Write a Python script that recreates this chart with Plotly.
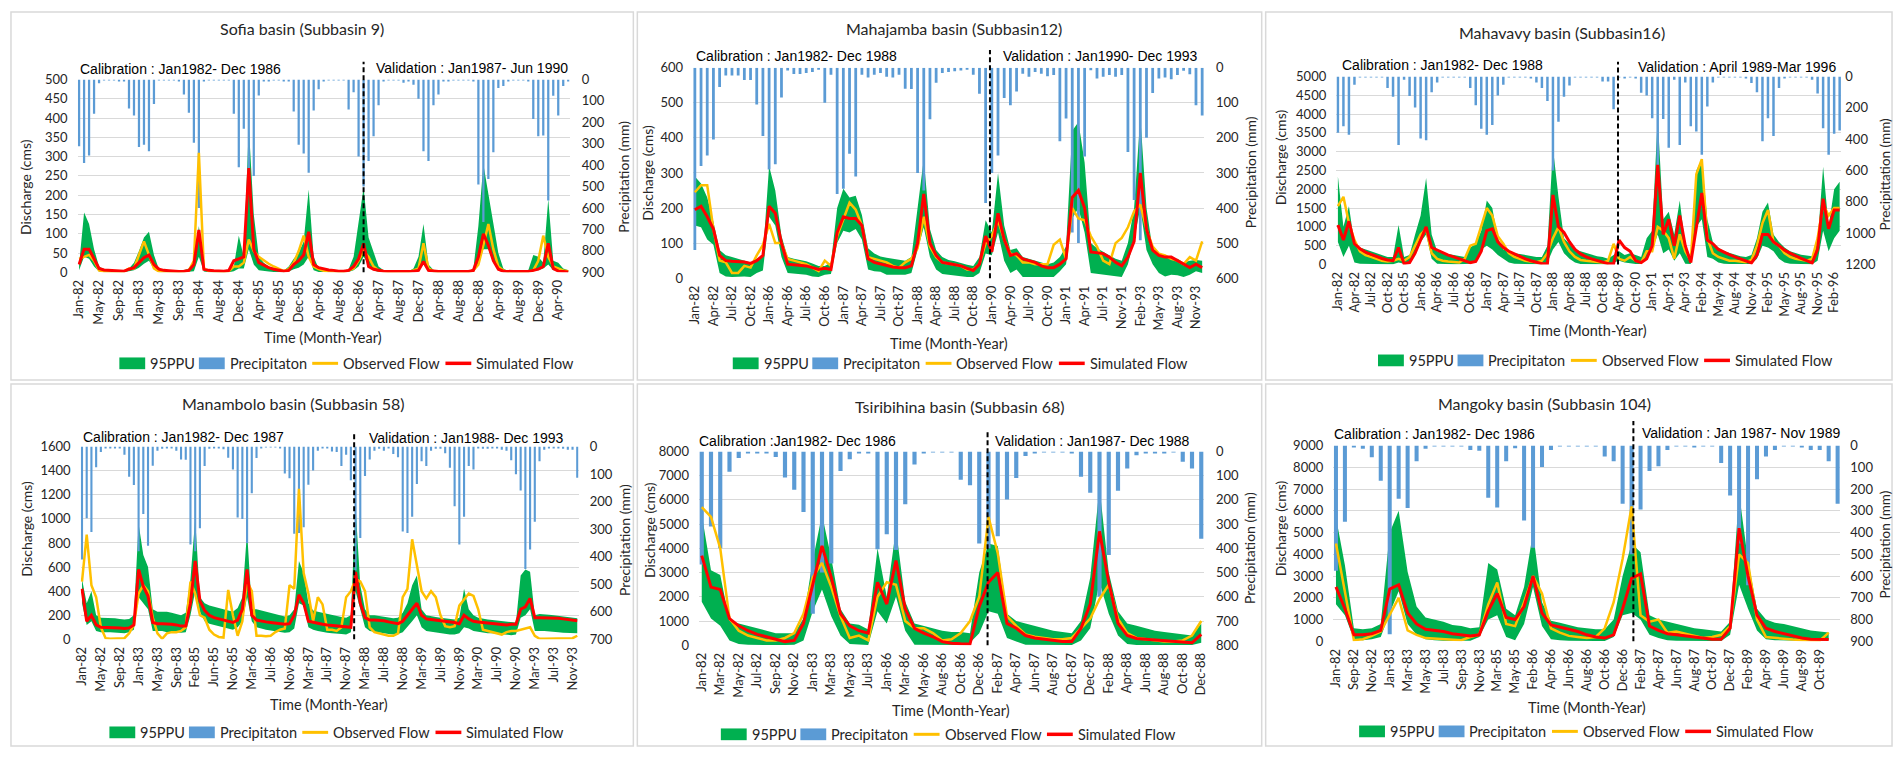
import plotly.graph_objects as go

# ======================= DATA =======================
# ---- Sofia basin (Subbasin 9) ----
sofia_labels = ["Jan-82", "May-82", "Sep-82", "Jan-83", "May-83", "Sep-83", "Jan-84", "Aug-84", "Dec-84",
                "Apr-85", "Aug-85", "Dec-85", "Apr-86", "Aug-86", "Dec-86", "Apr-87", "Aug-87", "Dec-87",
                "Apr-88", "Aug-88", "Dec-88", "Apr-89", "Aug-89", "Dec-89", "Apr-90"]
sofia_precip = [312, 390, 355, 160, 18, 3, 2, 2, 5, 10, 135, 168,
                315, 305, 335, 115, 3, 2, 2, 2, 10, 70, 155, 295,
                600, 8, 3, 2, 2, 2, 3, 160, 410, 230, 420, 450,
                75, 10, 5, 3, 3, 5, 8, 150, 305, 345, 435, 145,
                46, 5, 3, 3, 3, 3, 140, 60, 360, 500, 380, 265,
                120, 5, 3, 3, 3, 15, 10, 25, 90, 335, 380, 120,
                70, 10, 5, 3, 3, 3, 3, 10, 490, 665, 465, 340,
                40, 30, 5, 3, 3, 3, 8, 185, 265, 262, 565, 76,
                168, 30, 5]
sofia_upper = [20, 155, 125, 60, 15, 8, 5, 4, 4, 5, 10, 25,
               55, 90, 105, 45, 8, 5, 4, 3, 3, 5, 10, 25,
               120, 12, 5, 4, 3, 3, 5, 15, 95, 40, 380, 150,
               40, 25, 15, 10, 6, 4, 15, 35, 50, 80, 215, 40,
               10, 6, 5, 4, 3, 3, 8, 40, 130, 220, 90, 50,
               15, 5, 3, 3, 3, 3, 3, 10, 40, 125, 20, 6,
               3, 3, 3, 3, 3, 3, 3, 10, 120, 280, 200, 130,
               50, 10, 3, 3, 3, 3, 5, 45, 40, 25, 190, 30,
               25, 10, 5]
sofia_lower = [5, 40, 35, 15, 2, 0, 0, 0, 0, 0, 2, 5,
               12, 22, 30, 8, 0, 0, 0, 0, 0, 0, 1, 3,
               40, 2, 0, 0, 0, 0, 0, 3, 10, 10, 60, 20,
               5, 3, 2, 1, 0, 0, 2, 8, 12, 20, 40, 5,
               1, 0, 0, 0, 0, 0, 1, 5, 15, 40, 20, 5,
               1, 0, 0, 0, 0, 0, 0, 1, 5, 20, 2, 0,
               0, 0, 0, 0, 0, 0, 0, 1, 20, 60, 60, 25,
               5, 0, 0, 0, 0, 0, 0, 5, 5, 10, 20, 5,
               5, 2, 0]
sofia_obs = [35, 40, 45, 30, 5, 2, 1, 1, 1, 2, 10, 10,
             45, 80, 45, 10, 2, 1, 1, 1, 1, 2, 5, 30,
             310, 10, 3, 2, 1, 1, 3, 15, 15, 25, 85, 55,
             40, 30, 22, 15, 8, 3, 8, 25, 55, 95, 40, 15,
             8, 4, 3, 2, 1, 1, 5, 10, 30, 55, 40, 15,
             5, 2, 1, 1, 1, 1, 1, 5, 10, 75, 10, 3,
             1, 1, 1, 1, 1, 1, 1, 5, 20, 70, 125, 60,
             15, 5, 1, 1, 1, 1, 2, 5, 30, 95, 40, 15,
             10, 5, 3]
sofia_sim = [20, 60, 60, 35, 10, 6, 5, 4, 3, 3, 8, 12,
             25, 38, 45, 20, 8, 5, 4, 3, 2, 3, 5, 20,
             110, 8, 5, 4, 3, 3, 5, 30, 35, 40, 270, 60,
             25, 18, 12, 8, 5, 3, 5, 20, 30, 45, 105, 20,
             12, 8, 6, 5, 3, 3, 5, 15, 35, 75, 15, 8,
             5, 3, 2, 2, 2, 2, 2, 3, 5, 28, 5, 3,
             2, 2, 2, 2, 2, 2, 2, 5, 40, 100, 70, 30,
             8, 3, 2, 2, 2, 2, 2, 5, 8, 15, 75, 10,
             3, 2, 1]
sofia_split = 57.0

# ---- Mahajamba basin (Subbasin12) ----
maha_labels = ["Jan-82", "Apr-82", "Jul-82", "Oct-82", "Jan-86", "Apr-86", "Jul-86", "Oct-86", "Jan-87",
               "Apr-87", "Jul-87", "Oct-87", "Jan-88", "Apr-88", "Jul-88", "Oct-88", "Jan-90", "Apr-90",
               "Jul-90", "Oct-90", "Jan-91", "Apr-91", "Jul-91", "Nov-91", "Feb-93", "May-93", "Aug-93",
               "Nov-93"]
maha_precip = [520, 280, 250, 205, 55, 22, 22, 22, 35, 35, 105, 195,
               290, 275, 85, 8, 18, 18, 15, 12, 6, 100, 20, 360,
               345, 245, 310, 20, 28, 20, 15, 26, 28, 20, 60, 61,
               300, 350, 147, 43, 15, 12, 10, 8, 5, 20, 74, 386,
               300, 250, 86, 107, 68, 17, 26, 12, 17, 24, 21, 210,
               145, 470, 500, 253, 7, 31, 26, 21, 26, 21, 240, 377,
               492, 200, 72, 31, 28, 33, 21, 9, 19, 107, 136]
maha_upper = [290, 270, 230, 160, 80, 65, 60, 55, 50, 45, 55, 65,
              320, 250, 120, 60, 55, 52, 48, 42, 35, 35, 45, 200,
              255, 230, 235, 180, 85, 70, 62, 58, 55, 52, 50, 60,
              200, 340, 140, 80, 60, 52, 48, 42, 38, 35, 60, 165,
              130, 300, 150, 80, 85, 60, 55, 50, 45, 40, 45, 60,
              90, 420, 445, 330, 100, 85, 75, 65, 55, 50, 100, 200,
              460, 200, 80, 65, 60, 55, 55, 45, 50, 52, 50]
maha_lower = [150, 145, 110, 95, 15, 5, 3, 3, 5, 3, 15, 22,
              175, 150, 60, 15, 12, 12, 10, 5, 3, 10, 12, 100,
              135, 130, 140, 110, 25, 20, 18, 10, 8, 10, 10, 15,
              80, 145, 60, 25, 12, 10, 8, 5, 3, 3, 15, 70,
              65, 130, 50, 15, 25, 3, 3, 3, 3, 3, 3, 20,
              40, 170, 200, 130, 15, 12, 10, 8, 5, 3, 40, 110,
              200, 80, 40, 15, 5, 10, 8, 3, 10, 20, 15]
maha_obs = [245, 265, 265, 140, 50, 45, 15, 15, 35, 30, 65, 95,
            155, 100, 100, 55, 50, 45, 40, 30, 20, 50, 35, 120,
            170, 215, 195, 150, 60, 55, 50, 45, 35, 30, 45, 55,
            85, 175, 90, 60, 45, 42, 40, 35, 25, 25, 40, 100,
            120, 165, 110, 70, 65, 45, 45, 40, 40, 40, 95, 110,
            55, 200, 170, 165, 120, 90, 50, 40, 100, 115, 145, 190,
            210, 140, 90, 70, 65, 55, 50, 40, 60, 50, 105]
maha_sim = [195, 205, 175, 140, 65, 50, 48, 47, 46, 42, 50, 65,
            205, 185, 100, 40, 38, 37, 35, 30, 25, 28, 25, 130,
            175, 170, 170, 150, 55, 45, 40, 35, 32, 30, 30, 35,
            100, 240, 100, 65, 45, 42, 38, 35, 28, 22, 40, 120,
            75, 185, 110, 65, 70, 55, 50, 45, 35, 30, 30, 40,
            55, 230, 250, 200, 75, 72, 70, 60, 45, 35, 60, 105,
            300, 140, 80, 65, 60, 60, 50, 40, 30, 40, 30]
maha_split = 47.7

# ---- Mahavavy basin (Subbasin16) ----
mahav_labels = ["Jan-82", "Apr-82", "Jul-82", "Oct-82", "Oct-85", "Jan-86", "Apr-86", "Jul-86", "Oct-86",
                "Jan-87", "Apr-87", "Jul-87", "Oct-87", "Jan-88", "Apr-88", "Jul-88", "Oct-88", "Apr-89",
                "Oct-90", "Jan-91", "Apr-91", "Apr-93", "Feb-94", "May-94", "Aug-94", "Nov-94", "Feb-95",
                "May-95", "Aug-95", "Nov-95", "Feb-96"]
mahav_precip = [359, 317, 371, 52, 5, 4, 3, 3, 5, 73, 129, 438,
                20, 125, 198, 396, 407, 100, 38, 5, 4, 3, 3, 5,
                73, 184, 334, 371, 309, 121, 52, 5, 4, 3, 5, 8,
                38, 73, 157, 600, 288, 129, 58, 5, 4, 3, 3, 5,
                31, 31, 209, 5, 8, 5, 10, 104, 121, 267, 600, 271,
                455, 21, 438, 38, 317, 351, 500, 192, 38, 5, 4, 3,
                3, 5, 8, 42, 100, 413, 267, 380, 73, 10, 5, 4,
                3, 5, 21, 108, 330, 500, 365, 344]
mahav_upper = [2350, 1000, 1550, 550, 450, 400, 350, 300, 250, 200, 200, 1050,
               200, 250, 800, 1300, 2300, 800, 350, 300, 280, 250, 220, 200,
               450, 550, 900, 1700, 1500, 700, 400, 350, 300, 280, 250, 220,
               200, 200, 500, 3100, 1800, 700, 550, 400, 350, 300, 250, 220,
               200, 150, 250, 350, 250, 300, 250, 200, 700, 900, 3900, 1200,
               1400, 800, 1700, 500, 200, 2500, 2800, 1200, 600, 450, 350, 300,
               260, 220, 200, 250, 700, 1400, 1650, 800, 600, 450, 350, 300,
               260, 240, 220, 600, 2600, 1000, 2000, 2200]
mahav_lower = [600, 200, 500, 50, 20, 10, 10, 5, 5, 5, 5, 50,
               20, 50, 250, 600, 800, 150, 20, 10, 5, 5, 5, 5,
               20, 100, 400, 500, 400, 250, 150, 50, 20, 10, 5, 5,
               5, 5, 50, 400, 600, 300, 150, 50, 10, 5, 5, 5,
               5, 5, 50, 100, 50, 20, 10, 10, 200, 400, 800, 300,
               400, 100, 300, 20, 10, 1000, 1200, 200, 150, 50, 20, 10,
               5, 5, 5, 10, 150, 500, 450, 350, 150, 50, 20, 10,
               5, 5, 5, 100, 900, 350, 700, 900]
mahav_obs = [1550, 1800, 1100, 650, 350, 250, 200, 150, 100, 80, 100, 150,
             100, 200, 500, 800, 950, 300, 150, 100, 80, 70, 50, 150,
             500, 550, 1000, 1500, 1300, 750, 550, 300, 200, 150, 100, 80,
             60, 100, 300, 700, 1000, 600, 350, 200, 120, 100, 80, 60,
             50, 100, 550, 150, 100, 200, 100, 50, 350, 350, 1000, 900,
             700, 150, 800, 350, 100, 2400, 2800, 700, 300, 200, 150, 100,
             100, 80, 60, 120, 500, 1100, 1450, 600, 500, 300, 200, 150,
             120, 100, 150, 700, 1600, 1300, 1500, 1500]
mahav_sim = [1050, 650, 1150, 550, 420, 330, 270, 210, 160, 120, 100, 450,
             20, 50, 300, 650, 1000, 450, 380, 300, 250, 200, 150, 100,
             50, 80, 350, 900, 950, 600, 450, 350, 280, 220, 150, 100,
             60, 20, 20, 1850, 1000, 850, 600, 400, 280, 200, 150, 100,
             50, 20, 20, 650, 450, 350, 100, 50, 150, 500, 2650, 800,
             1200, 500, 1300, 500, 50, 1000, 1900, 650, 550, 400, 320, 260,
             200, 150, 100, 40, 250, 800, 800, 600, 500, 380, 300, 220,
             160, 100, 40, 400, 1750, 950, 1450, 1450]
mahav_split = 50.8

# ---- Manambolo basin (Subbasin 58) ----
mana_labels = ["Jan-82", "May-82", "Sep-82", "Jan-83", "May-83", "Sep-83", "Feb-85", "Jun-85", "Nov-85",
               "Mar-86", "Jul-86", "Nov-86", "Mar-87", "Jul-87", "Nov-87", "Mar-88", "Jul-88", "Nov-88",
               "Mar-89", "Jul-89", "Nov-89", "Mar-90", "Jul-90", "Nov-90", "Mar-93", "Jul-93", "Nov-93"]
mana_precip = [410, 260, 310, 75, 20, 6, 4, 4, 6, 30, 110, 140,
               380, 245, 360, 70, 15, 8, 4, 6, 15, 47, 48, 356,
               380, 297, 71, 8, 6, 5, 10, 41, 83, 258, 263, 350,
               170, 42, 4, 2, 2, 2, 6, 98, 115, 317, 314, 293,
               139, 87, 15, 6, 6, 18, 20, 71, 30, 122, 450, 332,
               107, 47, 15, 8, 15, 6, 27, 39, 308, 314, 255, 136,
               53, 71, 15, 8, 8, 24, 77, 217, 356, 255, 71, 83,
               6, 8, 8, 6, 6, 12, 15, 50, 101, 160, 445, 374,
               273, 53, 12, 6, 4, 6, 8, 12, 12, 113]
mana_upper = [500, 300, 400, 200, 180, 180, 180, 175, 170, 165, 170, 200,
              960, 700, 600, 250, 230, 230, 230, 220, 210, 200, 220, 500,
              1000, 350, 300, 280, 270, 260, 250, 240, 230, 260, 350, 900,
              250, 250, 240, 230, 220, 210, 200, 190, 200, 250, 650, 550,
              300, 240, 230, 220, 210, 200, 190, 185, 180, 200, 1100, 450,
              250, 200, 200, 195, 190, 180, 175, 180, 220, 300, 450, 530,
              250, 200, 190, 185, 180, 175, 170, 165, 180, 420, 250, 200,
              180, 170, 165, 160, 155, 150, 145, 140, 140, 530, 580, 560,
              200, 210, 210, 205, 200, 195, 190, 185, 180, 175]
mana_lower = [300, 120, 150, 70, 60, 60, 60, 55, 55, 50, 60, 80,
              350, 300, 250, 70, 70, 70, 60, 60, 60, 55, 60, 200,
              400, 230, 150, 130, 120, 110, 100, 90, 80, 100, 150, 350,
              150, 100, 90, 80, 70, 65, 60, 55, 60, 90, 300, 280,
              100, 80, 70, 60, 55, 50, 45, 45, 40, 60, 400, 250,
              100, 70, 60, 55, 50, 45, 40, 45, 60, 100, 150, 200,
              100, 70, 60, 55, 50, 45, 40, 40, 50, 100, 90, 70,
              60, 55, 50, 50, 45, 40, 40, 35, 40, 180, 200, 250,
              70, 70, 70, 65, 65, 60, 55, 55, 50, 50]
mana_obs = [480, 870, 450, 350, 100, 10, 5, 5, 5, 10, 50, 120,
            380, 450, 400, 180, 50, 5, 50, 60, 60, 70, 100, 480,
            380, 200, 180, 80, 40, 20, 15, 410, 200, 30, 150, 480,
            400, 30, 30, 25, 30, 60, 80, 90, 450, 420, 1250, 550,
            380, 150, 350, 290, 80, 80, 70, 100, 350, 400, 500, 480,
            400, 100, 60, 50, 40, 30, 30, 50, 350, 420, 830, 600,
            400, 340, 400, 350, 200, 110, 100, 110, 280, 330, 380, 360,
            250, 80, 70, 60, 50, 40, 60, 70, 70, 80, 90, 100,
            30, 5, 5, 5, 5, 5, 5, 5, 10, 30]
mana_sim = [420, 150, 200, 120, 100, 100, 100, 100, 95, 90, 95, 120,
            580, 440, 360, 140, 130, 130, 130, 125, 120, 110, 110, 300,
            650, 320, 240, 200, 180, 170, 160, 150, 140, 160, 250, 580,
            200, 160, 150, 145, 140, 135, 130, 125, 130, 200, 370, 300,
            150, 140, 130, 125, 120, 115, 110, 105, 100, 100, 560, 300,
            180, 160, 160, 160, 155, 145, 135, 130, 150, 200, 240, 300,
            200, 170, 165, 160, 160, 155, 150, 140, 130, 200, 170, 150,
            145, 140, 135, 130, 125, 120, 120, 125, 125, 250, 270, 340,
            180, 180, 180, 180, 175, 175, 170, 165, 160, 155]
mana_split = 57.7

# ---- Tsiribihina basin (Subbasin 68) ----
tsi_labels = ["Jan-82", "Mar-82", "May-82", "Jul-82", "Sep-82", "Nov-82", "Jan-83", "Mar-83", "May-83",
              "Jul-83", "Jan-86", "Mar-86", "May-86", "Aug-86", "Oct-86", "Dec-86", "Feb-87", "Apr-87",
              "Jun-87", "Aug-87", "Oct-87", "Dec-87", "Feb-88", "Apr-88", "Jun-88", "Aug-88", "Oct-88",
              "Dec-88"]
tsi_precip = [467, 310, 400, 84, 27, 5, 5, 5, 23, 108, 158, 250,
              670, 500, 463, 81, 32, 5, 5, 404, 342, 407, 218, 54,
              5, 3, 3, 3, 117, 140, 380, 400, 350, 198, 110, 19,
              5, 3, 3, 3, 9, 104, 171, 600, 427, 162, 70, 16,
              5, 7, 7, 3, 43, 70, 360]
tsi_upper = [5400, 3100, 2900, 1000, 900, 800, 700, 600, 500, 500, 500,
             1100, 3500, 5400, 3600, 1500, 900, 850, 650, 4000, 2000, 4800,
             1800, 900, 800, 700, 600, 550, 550, 500, 3000, 4200, 4100,
             1300, 1000, 900, 800, 700, 600, 550, 500, 1000, 2800, 6500,
             3000, 1400, 900, 800, 700, 600, 550, 500, 450, 400, 900]
tsi_lower = [1800, 1100, 800, 200, 50, 20, 10, 5, 5, 5, 20,
             200, 1400, 2300, 1200, 400, 50, 20, 10, 1400, 900, 2000,
             600, 20, 10, 10, 5, 5, 5, 100, 500, 1400, 1300,
             300, 150, 20, 10, 5, 5, 5, 5, 200, 700, 2600,
             1300, 400, 50, 10, 10, 5, 5, 5, 5, 5, 100]
tsi_obs = [5700, 5300, 4000, 1100, 600, 400, 300, 200, 200, 300, 500,
           1300, 2800, 3400, 2400, 1200, 300, 400, 200, 2000, 2600, 2500,
           1000, 700, 700, 500, 200, 250, 500, 1000, 2000, 5300, 3800,
           1200, 800, 450, 350, 300, 250, 250, 300, 700, 1100, 1900,
           2500, 1100, 500, 300, 250, 200, 150, 150, 200, 400, 1000]
tsi_sim = [3700, 2400, 2300, 1100, 800, 600, 450, 350, 250, 150, 200,
           900, 2500, 4100, 2800, 1300, 800, 600, 500, 2600, 1700, 3500,
           1500, 700, 500, 350, 150, 80, 60, 50, 1600, 2600, 3000,
           900, 700, 400, 300, 250, 200, 150, 150, 700, 1700, 4700,
           2600, 900, 400, 280, 250, 220, 180, 150, 100, 100, 450]
tsi_split = 30.9

# ---- Mangoky basin (Subbasin 104) ----
mang_labels = ["Jan-82", "Sep-82", "Nov-82", "Jan-83", "Mar-83", "May-83", "Jul-83", "Sep-83", "Nov-83",
               "Mar-85", "May-85", "Feb-86", "Apr-86", "Jun-86", "Aug-86", "Oct-86", "Dec-86", "Feb-87",
               "Apr-87", "Jun-87", "Aug-87", "Oct-87", "Dec-87", "Feb-89", "Apr-89", "Jun-89", "Aug-89",
               "Oct-89"]
mang_precip = [575, 350, 5, 15, 54, 162, 867, 245, 287, 72, 15, 3,
               3, 3, 3, 20, 24, 240, 285, 72, 12, 345, 470, 99,
               20, 3, 3, 3, 3, 3, 50, 72, 267, 500, 294, 117,
               95, 20, 3, 3, 5, 3, 3, 80, 230, 450, 642, 155,
               50, 20, 3, 3, 8, 20, 20, 72, 267]
mang_upper = [5700, 3500, 600, 550, 600, 800, 5000, 6000, 3200, 1600, 1100, 1000,
              900, 750, 700, 600, 650, 3600, 3300, 1500, 1200, 2500, 5000, 1800,
              950, 850, 750, 650, 600, 550, 550, 1000, 3000, 4500, 4100, 1200,
              1000, 900, 800, 700, 600, 550, 500, 450, 900, 6800, 3700, 1500,
              1000, 850, 800, 700, 600, 500, 450, 400]
mang_lower = [1700, 1200, 100, 50, 100, 200, 1300, 2300, 800, 300, 100, 50,
              30, 20, 20, 30, 200, 1000, 1200, 200, 50, 800, 2500, 700,
              100, 50, 30, 20, 10, 10, 10, 200, 1200, 1300, 1000, 300,
              150, 50, 30, 20, 15, 10, 10, 10, 300, 2600, 1500, 500,
              100, 50, 30, 20, 15, 10, 10, 50]
mang_obs = [4500, 2200, 50, 100, 250, 450, 1200, 2000, 500, 300, 150, 120,
            100, 80, 50, 200, 300, 1700, 2700, 800, 700, 1800, 3000, 2200,
            600, 400, 250, 200, 150, 200, 600, 1800, 3800, 6200, 1200, 900,
            1000, 400, 450, 350, 250, 150, 200, 300, 700, 4000, 3600, 1000,
            200, 150, 100, 80, 50, 30, 30, 400]
mang_sim = [2500, 1500, 300, 300, 350, 500, 2400, 2600, 1300, 800, 550, 500,
            450, 350, 300, 250, 300, 1400, 2200, 1100, 1000, 1600, 3000, 1300,
            750, 650, 550, 450, 300, 200, 150, 300, 1500, 2900, 3100, 700,
            500, 350, 300, 250, 200, 150, 100, 100, 600, 5200, 3000, 1200,
            600, 450, 350, 250, 150, 100, 80, 80]
mang_split = 33.2

legend_names = ["95PPU", "Precipitaton", "Observed Flow", "Simulated Flow"]

# ======================= STYLE / LAYOUT =======================
GREEN, BLUE, ORANGE, RED = "#00B050", "#5B9BD5", "#FFC000", "#FF0000"
GRID, TXT, BORDER = "#D9D9D9", "#262626", "#D9D9D9"
FONT, FONT2 = "Lato", "Liberation Sans"
W, H = 1899, 757
TICK_SIZE, AXT_SIZE, TIME_SIZE, LEG_SIZE, TITLE_SIZE, NOTE_SIZE = 13, 14, 14.5, 14.5, 16, 14
LEG_OFFSETS = [0, 80, 194, 328]   # px offsets of each legend entry's symbol from the legend's left edge
LEG_SYM_W, LEG_TEXT_GAP = 26, 29

def fx(v):
    return v / W


def fy(v):
    return 1 - v / H


panels = [
    dict(title="Sofia basin (Subbasin 9)", calib="Calibration : Jan1982- Dec 1986",
         valid="Validation : Jan1987- Jun 1990", labels=sofia_labels, step=4, precip=sofia_precip,
         upper=sofia_upper, lower=sofia_lower, obs=sofia_obs, sim=sofia_sim, split=sofia_split,
         qmax=500, qstep=50, pmax=900, pstep=100, ptitle="Precipitation (mm)",
         plot=(71, 73, 566, 270), box=(4, 4, 630, 380), title_xy=(297, 21), calib_xy=(71, 62),
         valid_xy=(566, 61), dash_top=55, ytitle_xy=(18, 183), ptitle_xy=(620, 172), time_xy=(318, 337),
         legend_xy=(113, 363), rstand=11, psize=14),
    dict(title="Mahajamba basin (Subbasin12)", calib="Calibration : Jan1982- Dec 1988",
         valid="Validation : Jan1990- Dec 1993", labels=maha_labels, step=3, precip=maha_precip,
         upper=maha_upper, lower=maha_lower, obs=maha_obs, sim=maha_sim, split=maha_split,
         qmax=600, qstep=100, pmax=600, pstep=100, ptitle="Precipitation (mm)",
         plot=(690, 61, 1204, 276), box=(634, 4, 1262, 380), title_xy=(953, 21), calib_xy=(691, 49),
         valid_xy=(1200, 49), dash_top=43, ytitle_xy=(644, 168), ptitle_xy=(1251, 168), time_xy=(947, 343),
         legend_xy=(730, 363), rstand=11, psize=14),
    dict(title="Mahavavy basin (Subbasin16)", calib="Calibration : Jan1982- Dec 1988",
         valid="Validation : April 1989-Mar 1996", labels=mahav_labels, step=3, precip=mahav_precip,
         upper=mahav_upper, lower=mahav_lower, obs=mahav_obs, sim=mahav_sim, split=mahav_split,
         qmax=5000, qstep=500, pmax=1200, pstep=200, ptitle="Precipittation (mm)",
         plot=(1337, 70, 1845, 262), box=(1266, 4, 1896, 380), title_xy=(1564, 25), calib_xy=(1341, 58),
         valid_xy=(1842, 60), dash_top=55, ytitle_xy=(1281, 153), ptitle_xy=(1889, 170), time_xy=(1590, 329),
         legend_xy=(1379, 360), rstand=3, psize=13.5),
    dict(title="Manambolo basin (Subbasin 58)", calib="Calibration : Jan1982- Dec 1987",
         valid="Validation : Jan1988- Dec 1993", labels=mana_labels, step=4, precip=mana_precip,
         upper=mana_upper, lower=mana_lower, obs=mana_obs, sim=mana_sim, split=mana_split,
         qmax=1600, qstep=200, pmax=700, pstep=100, ptitle="Precipitation (mm)",
         plot=(74, 448, 575, 645), box=(4, 384, 630, 754), title_xy=(288, 404), calib_xy=(74, 438),
         valid_xy=(562, 439), dash_top=433, ytitle_xy=(20, 532), ptitle_xy=(621, 543), time_xy=(324, 712),
         legend_xy=(103, 740), rstand=10, psize=14),
    dict(title="Tsiribihina basin (Subbasin 68)", calib="Calibration :Jan1982- Dec 1986",
         valid="Validation : Jan1987- Dec 1988", labels=tsi_labels, step=2, precip=tsi_precip,
         upper=tsi_upper, lower=tsi_lower, obs=tsi_obs, sim=tsi_sim, split=tsi_split,
         qmax=8000, qstep=1000, pmax=800, pstep=100, ptitle="Precipitation (mm)",
         plot=(696, 453, 1204, 651), box=(634, 384, 1262, 754), title_xy=(959, 407), calib_xy=(694, 442),
         valid_xy=(1192, 442), dash_top=433, ytitle_xy=(646, 533), ptitle_xy=(1250, 552), time_xy=(949, 718),
         legend_xy=(718, 742), rstand=11, psize=14),
    dict(title="Mangoky basin (Subbasin 104)", calib="Calibration : Jan1982- Dec 1986",
         valid="Validation : Jan 1987- Nov 1989", labels=mang_labels, step=2, precip=mang_precip,
         upper=mang_upper, lower=mang_lower, obs=mang_obs, sim=mang_sim, split=mang_split,
         qmax=9000, qstep=1000, pmax=900, pstep=100, ptitle="Precipitation (mm)",
         plot=(1334, 447, 1844, 647), box=(1266, 384, 1896, 754), title_xy=(1546, 404), calib_xy=(1333, 435),
         valid_xy=(1846, 434), dash_top=422, ytitle_xy=(1281, 532), ptitle_xy=(1889, 548), time_xy=(1589, 715),
         legend_xy=(1360, 739), rstand=9, psize=13.5),
]

for p in panels:
    n = len(p["obs"])
    if not (len(p["sim"]) == len(p["upper"]) == len(p["lower"]) == n):
        raise ValueError(p["title"] + " flow lengths " + str([len(p[k]) for k in ("upper", "lower", "obs", "sim")]))

fig = go.Figure()
layout = {}
annotations = []
shapes = []


def yname(i):
    return "y" if i == 1 else "y%d" % i


def tfont(size=TICK_SIZE, fam=FONT, color=TXT):
    return dict(family=fam, size=size, color=color)


def paper_ann(text, x, y, size, xanchor="center", angle=0, fam=FONT, color=TXT):
    return dict(text=text, x=fx(x), y=fy(y), xref="paper", yref="paper", showarrow=False, textangle=angle,
                xanchor=xanchor, yanchor="middle", font=tfont(size, fam, color))


for k, p in enumerate(panels, 1):
    sx = "" if k == 1 else str(k)
    xa = "x" + sx
    ia, ib, ic = 3 * k - 2, 3 * k - 1, 3 * k
    nf, nb = len(p["obs"]), len(p["precip"])
    xf, xb = list(range(nf)), list(range(nb))

    fig.add_trace(go.Scatter(x=xf + xf[::-1], y=list(p["upper"]) + list(p["lower"])[::-1], fill="toself",
                             fillcolor=GREEN, mode="lines", line=dict(color=GREEN, width=0),
                             name=legend_names[0], xaxis=xa, yaxis=yname(ia), showlegend=False,
                             hoverinfo="skip"))
    fig.add_trace(go.Bar(x=xb, y=p["precip"], width=0.45, marker=dict(color=BLUE, line=dict(width=0)),
                         name=legend_names[1], xaxis=xa, yaxis=yname(ib), showlegend=False))
    fig.add_trace(go.Scatter(x=xf, y=p["obs"], mode="lines", line=dict(color=ORANGE, width=2.5),
                             name=legend_names[2], xaxis=xa, yaxis=yname(ic), showlegend=False))
    fig.add_trace(go.Scatter(x=xf, y=p["sim"], mode="lines", line=dict(color=RED, width=3),
                             name=legend_names[3], xaxis=xa, yaxis=yname(ic), showlegend=False))

    x0, y0, x1, y1 = p["plot"]
    layout["xaxis" + sx] = dict(domain=[fx(x0), fx(x1)], anchor=yname(ia), range=[-0.3, nb - 0.7],
                                tickmode="array", tickvals=[i * p["step"] for i in range(len(p["labels"]))],
                                ticktext=p["labels"], tickangle=-90, showgrid=False, zeroline=False,
                                showline=False, ticks="", ticklabelstandoff=4, tickfont=tfont())
    layout["yaxis" + ("" if ia == 1 else str(ia))] = dict(
        domain=[fy(y1), fy(y0)], anchor=xa, range=[0, p["qmax"]], tick0=0, dtick=p["qstep"],
        showgrid=True, gridcolor=GRID, gridwidth=1, zeroline=False, showline=False, ticks="",
        ticklabelstandoff=9, tickfont=tfont())
    layout["yaxis%d" % ib] = dict(overlaying=yname(ia), anchor=xa, side="right", range=[p["pmax"], 0],
                                  tick0=0, dtick=p["pstep"], showgrid=False, zeroline=False, showline=False,
                                  ticks="", ticklabelstandoff=p["rstand"], tickfont=tfont())
    layout["yaxis%d" % ic] = dict(overlaying=yname(ia), anchor=xa, range=[0, p["qmax"]], visible=False)

    # panel frame and calibration/validation split
    bx0, by0, bx1, by1 = p["box"]
    shapes.append(dict(type="rect", xref="paper", yref="paper", x0=fx(bx0), x1=fx(bx1), y0=fy(by1), y1=fy(by0),
                       line=dict(color=BORDER, width=1.5), layer="below"))
    shapes.append(dict(type="line", xref=xa, yref="paper", x0=p["split"], x1=p["split"], y0=fy(y1),
                       y1=fy(p["dash_top"]), line=dict(color="black", width=2, dash="5px,3px")))

    # legend (drawn per panel)
    lx, ly = p["legend_xy"]
    sym_colors = [GREEN, BLUE, ORANGE, RED]
    for j, name in enumerate(legend_names):
        sx0 = lx + LEG_OFFSETS[j]
        if j < 2:
            shapes.append(dict(type="rect", xref="paper", yref="paper", x0=fx(sx0), x1=fx(sx0 + LEG_SYM_W),
                               y0=fy(ly + 6), y1=fy(ly - 6), fillcolor=sym_colors[j], line=dict(width=0)))
        else:
            shapes.append(dict(type="line", xref="paper", yref="paper", x0=fx(sx0), x1=fx(sx0 + LEG_SYM_W),
                               y0=fy(ly), y1=fy(ly), line=dict(color=sym_colors[j], width=3 if j == 2 else 3.5)))
        annotations.append(paper_ann(name, sx0 + LEG_TEXT_GAP, ly, LEG_SIZE, xanchor="left"))

    annotations.append(paper_ann(p["title"], *p["title_xy"], TITLE_SIZE))
    annotations.append(paper_ann(p["calib"], *p["calib_xy"], NOTE_SIZE, xanchor="left", fam=FONT2, color="black"))
    annotations.append(paper_ann(p["valid"], *p["valid_xy"], NOTE_SIZE, xanchor="right", fam=FONT2, color="black"))
    annotations.append(paper_ann("Discharge (cms)", *p["ytitle_xy"], AXT_SIZE, angle=-90))
    annotations.append(paper_ann(p["ptitle"], *p["ptitle_xy"], p["psize"], angle=-90))
    annotations.append(paper_ann("Time (Month-Year)", *p["time_xy"], TIME_SIZE))

layout.update(dict(width=W, height=H, margin=dict(l=0, r=0, t=0, b=0), paper_bgcolor="white",
                   plot_bgcolor="white", showlegend=False, annotations=annotations, shapes=shapes,
                   font=dict(family=FONT, color=TXT), hovermode=False))
fig.update_layout(**layout)
fig.write_html("out.html", config={"displayModeBar": False},
               post_script="document.body.style.margin='0';document.body.style.overflow='hidden';")
